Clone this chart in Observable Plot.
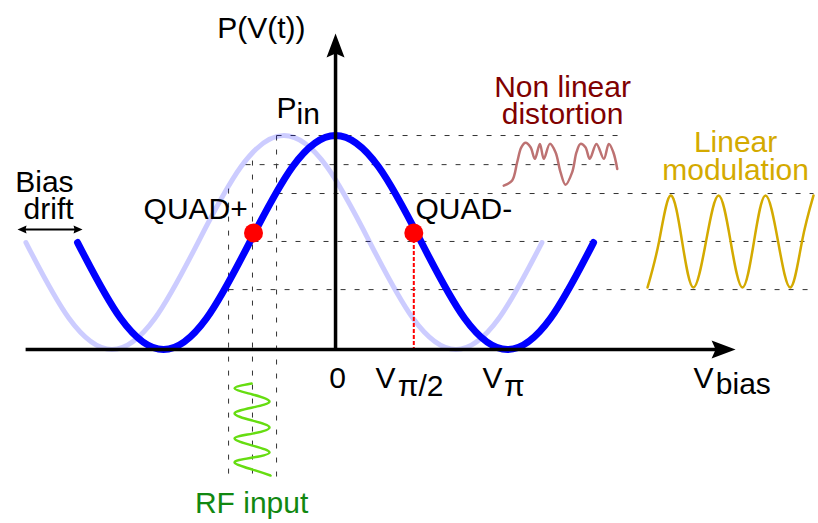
<!DOCTYPE html>
<html><head><meta charset="utf-8">
<script src="https://cdn.jsdelivr.net/npm/d3@7"></script>
<script src="https://cdn.jsdelivr.net/npm/@observablehq/plot@0.6"></script>
<style>html,body{margin:0;padding:0;background:#fff;} #chart svg{display:block}</style>
</head><body><div id="chart"></div>
<script>
// Units: V in units of Vπ, P in units of Pin
// Transfer curve sampled every Vπ/4
const curveV = [-1.5,-1.25,-1,-0.75,-0.5,-0.25,0,0.25,0.5,0.75,1,1.25,1.5];
const curveP = [0.5,0.146,0,0.146,0.5,0.854,1,0.854,0.5,0.146,0,0.146,0.5];
// Drifted transfer curve (faded)
const driftV = [-1.8,-1.55,-1.3,-1.05,-0.8,-0.55,-0.3,-0.05,0.2,0.45,0.7,0.95,1.2];
const driftP = [0.5,0.146,0,0.146,0.5,0.854,1,0.854,0.5,0.146,0,0.146,0.5];
// Quadrature points
const quadV = [-0.477, 0.455];
const quadP = [0.545, 0.545];
// RF input (drawn below the axis, time running downward)
const rfV = [-0.488,-0.587,-0.483,-0.384,-0.483,-0.587,-0.483,-0.384,-0.483,-0.587,-0.483,-0.384,-0.483,-0.587,-0.483,-0.378];
const rfP = [-0.159,-0.182,-0.210,-0.243,-0.271,-0.299,-0.332,-0.364,-0.393,-0.416,-0.449,-0.481,-0.505,-0.528,-0.561,-0.589];
// Non linear distortion output
const nlV = [0.978,1.027,1.056,1.080,1.105,1.134,1.159,1.188,1.211,1.246,1.279,1.308,1.337,1.376,1.401,1.424,1.453,1.478,1.517,1.560,1.589,1.615,1.638];
const nlP = [0.766,0.790,0.875,0.945,0.966,0.945,0.891,0.961,0.891,0.961,0.922,0.829,0.770,0.829,0.922,0.961,0.945,0.891,0.961,0.891,0.961,0.922,0.844];
// Linear modulation output
const linV = [1.814,1.881,1.948,2.015,2.081,2.154,2.227,2.297,2.366,2.433,2.500,2.573,2.645,2.712,2.779];
const linP = [0.290,0.505,0.720,0.505,0.290,0.505,0.720,0.505,0.290,0.505,0.720,0.505,0.290,0.505,0.720];
// Horizontal guide levels
const guideP    = [1.0, 0.864, 0.729, 0.505, 0.280];
const guideFrom = [-0.343, -0.523, -0.337, -0.477, -0.622];
const guideTo   = [1.669, 1.669, 2.779, 2.779, 2.779];
// Vertical guides (RF swing)
const vGuideV   = [-0.622, -0.483, -0.343];
const vGuideTop = [0.752, 0.883, 1.0];
const vGuideBottom = -0.612;
// Axes extents
const xAxisFrom = -1.802, xAxisTip = 2.326;
const yAxisTip = 1.477;
// Bias drift arrow
const driftArrowV = [-1.849, -1.471];
const driftArrowP = 0.561;
// Labels
const startLabels = ["P(V(t))","P","in","QUAD+","QUAD-","V","π/2","V","π","V","bias"];
const startLabelV = [-0.688,-0.343,-0.227,-1.116,0.465,0.233,0.362,0.855,0.979,2.081,2.211];
const startLabelP = [1.458,1.084,1.056,0.612,0.612,-0.182,-0.215,-0.182,-0.215,-0.178,-0.210];
const biasLabel = {text:"Bias\ndrift", v:-1.523, p:0.612};
const zeroLabel = {text:"0", v:0.012, p:-0.182};
const rfLabel = {text:"RF input", v:-0.488, p:-0.766};
const nlLabel = {text:"Non linear\ndistortion", v:1.320, p:1.056};
const linLabel = {text:"Linear\nmodulation", v:2.326, p:0.790};

const zip = (xs, ys) => xs.map((v,i)=>({v, p: ys[i]}));
const zipT = (ts, xs, ys) => ts.map((text,i)=>({text, v: xs[i], p: ys[i]}));

function arrowHead(angleDeg, len, half, notch) {
  const a = angleDeg*Math.PI/180, c = Math.cos(a), s = Math.sin(a);
  const pts = [[0,0],[-len,-half],[-len+notch,0],[-len,half]].map(([x,y])=>[x*c - y*s, x*s + y*c]);
  return {draw(ctx){ ctx.moveTo(pts[0][0],pts[0][1]); for (let i=1;i<4;i++) ctx.lineTo(pts[i][0],pts[i][1]); ctx.closePath(); }};
}

const W = 818, H = 523;
const font = "Liberation Sans, Arial, Helvetica, sans-serif";
const fs = 30;
const dash = "5,9";

const chart = Plot.plot({
  width: W, height: H, margin: 0,
  x: {domain: [-1.948, 2.808], axis: null},
  y: {domain: [-0.813, 1.631], axis: null},
  style: {fontFamily: font, fontSize: fs + "px", background: "white"},
  marks: [
    // guides
    Plot.link(guideP.map((p,i)=>({p, a: guideFrom[i], b: guideTo[i]})), {x1:"a", x2:"b", y1:"p", y2:"p", stroke:"#333", strokeWidth:1, strokeDasharray: dash}),
    Plot.link(vGuideV.map((v,i)=>({v, t: vGuideTop[i]})), {x1:"v", x2:"v", y1:"t", y2: () => vGuideBottom, stroke:"#333", strokeWidth:1, strokeDasharray: dash}),
    // curves
    Plot.line(zip(driftV, driftP), {x:"v", y:"p", curve:"natural", stroke:"#0000ff", strokeOpacity:0.2, strokeWidth:5, strokeLinecap:"round"}),
    Plot.line(zip(curveV, curveP), {x:"v", y:"p", curve:"natural", stroke:"#0000ff", strokeWidth:7, strokeLinecap:"round"}),
    // small signals
    Plot.line(zip(rfV, rfP), {x:"v", y:"p", curve:"natural", stroke:"#66dd11", strokeWidth:2.5}),
    Plot.line(zip(nlV, nlP), {x:"v", y:"p", curve:"catmull-rom", stroke:"#bd7272", strokeWidth:2.5}),
    Plot.line(zip(linV, linP), {x:"v", y:"p", curve:"natural", stroke:"#d4aa00", strokeWidth:2.5}),
    // red dashed from QUAD-
    Plot.link([{v: quadV[1], p: quadP[1]}], {x1:"v", x2:"v", y1:"p", y2: () => 0, stroke:"#ff0000", strokeWidth:2, strokeDasharray:"4,2"}),
    // axes
    Plot.link([{a: xAxisFrom, b: xAxisTip - 0.1}], {x1:"a", x2:"b", y1: () => 0, y2: () => 0, stroke:"black", strokeWidth:3.5}),
    Plot.link([{a: 0, b: yAxisTip - 0.08}], {x1: () => 0, x2: () => 0, y1:"a", y2:"b", stroke:"black", strokeWidth:3.5}),
    Plot.dot([{v: xAxisTip, p: 0}], {x:"v", y:"p", r:5, symbol: arrowHead(0, 24, 9, 4), fill:"black", stroke:"none"}),
    Plot.dot([{v: 0, p: yAxisTip}], {x:"v", y:"p", r:5, symbol: arrowHead(-90, 24, 9, 4), fill:"black", stroke:"none"}),
    // bias drift arrow
    Plot.link([{a: driftArrowV[0] + 0.03, b: driftArrowV[1] - 0.03}], {x1:"a", x2:"b", y1: () => driftArrowP, y2: () => driftArrowP, stroke:"black", strokeWidth:2}),
    Plot.dot([{v: driftArrowV[0], p: driftArrowP}], {x:"v", y:"p", r:3, symbol: arrowHead(180, 9, 4, 1), fill:"black", stroke:"none"}),
    Plot.dot([{v: driftArrowV[1], p: driftArrowP}], {x:"v", y:"p", r:3, symbol: arrowHead(0, 9, 4, 1), fill:"black", stroke:"none"}),
    // quadrature dots
    Plot.dot(zip(quadV, quadP), {x:"v", y:"p", r:9.5, fill:"#ff0000", stroke:"none"}),
    // labels
    Plot.text(zipT(startLabels, startLabelV, startLabelP), {x:"v", y:"p", text:"text", textAnchor:"start", lineAnchor:"bottom", fontSize: fs, fill:"black"}),
    Plot.text([biasLabel], {x:"v", y:"p", text:"text", textAnchor:"end", lineAnchor:"bottom", lineHeight: 0.9, fontSize: fs, fill:"black"}),
    Plot.text([zeroLabel], {x:"v", y:"p", text:"text", textAnchor:"middle", lineAnchor:"bottom", fontSize: fs, fill:"black"}),
    Plot.text([rfLabel], {x:"v", y:"p", text:"text", textAnchor:"middle", lineAnchor:"bottom", fontSize: fs, fill:"#118811"}),
    Plot.text([nlLabel], {x:"v", y:"p", text:"text", textAnchor:"middle", lineAnchor:"bottom", lineHeight: 0.87, fontSize: fs, fill:"#800000"}),
    Plot.text([linLabel], {x:"v", y:"p", text:"text", textAnchor:"middle", lineAnchor:"bottom", lineHeight: 0.96, fontSize: fs, fill:"#d4aa00"})
  ]
});
document.getElementById("chart").appendChild(chart);
</script>
</body></html>
